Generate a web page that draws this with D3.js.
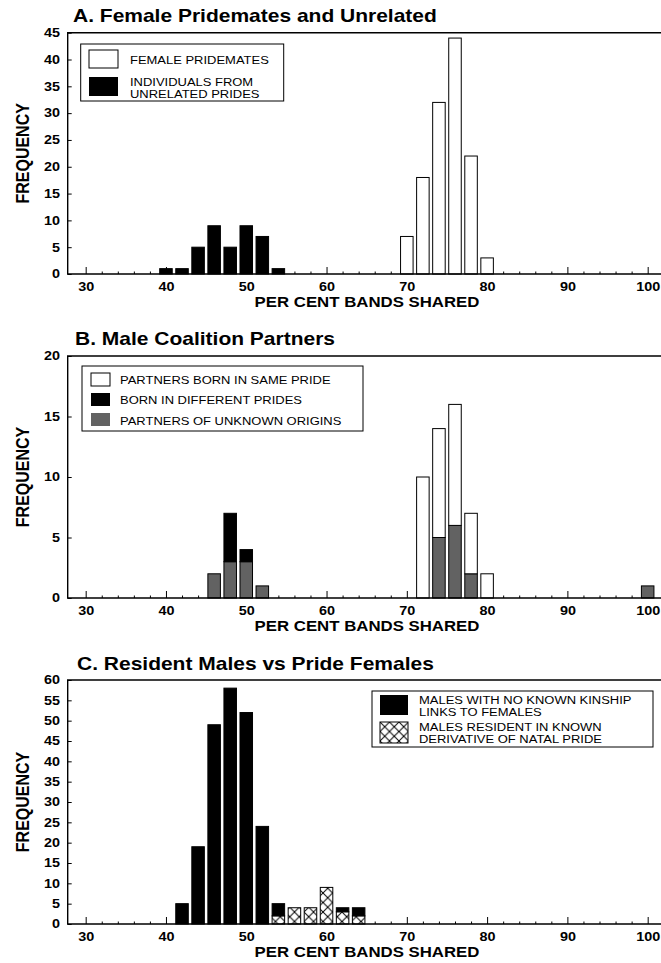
<!DOCTYPE html>
<html>
<head>
<meta charset="utf-8">
<script src="https://cdn.jsdelivr.net/npm/d3@7"></script>
<style>
  body { margin: 0; background: #fff; }
  svg { display: block; }
  text { font-family: "Liberation Sans", Arial, Helvetica, sans-serif; fill: #000; }
</style>
</head>
<body>
<svg width="661" height="963"></svg>
<script>

// A. female pridemates vs unrelated prides
const unrelatedBins = [40, 42, 44, 46, 48, 50, 52, 54];
const unrelatedFreq = [1, 1, 5, 9, 5, 9, 7, 1];
const pridemateBins = [70, 72, 74, 76, 78, 80];
const pridemateFreq = [7, 18, 32, 44, 22, 3];

// B. male coalition partners (stacked: unknown, different, same)
const binsB = [46, 48, 50, 52, 72, 74, 76, 78, 80, 100];
const unknownB = [2, 3, 3, 1, 0, 5, 6, 2, 0, 1];
const differentB = [0, 4, 1, 0, 0, 0, 0, 0, 0, 0];
const sameB = [0, 0, 0, 0, 10, 9, 10, 5, 2, 0];

// C. resident males vs pride females (stacked: derivative, no kin)
const binsC = [42, 44, 46, 48, 50, 52, 54, 56, 58, 60, 62, 64];
const derivativeC = [0, 0, 0, 0, 0, 0, 2, 4, 4, 9, 3, 2];
const noKinC = [5, 19, 49, 58, 52, 24, 3, 0, 0, 0, 1, 2];

const xTicks = [30, 40, 50, 60, 70, 80, 90, 100];

const W = 661;
const stretch = 1.2;     // the scan is wider than it is tall
const halfBar = 0.78;
const grey = '#626262';

const svg = d3.select('svg');

const x = d3.scaleLinear()
  .domain([27.76, 101.66])
  .range([67.7, 661]);

const defs = svg.append('defs');
const hatch = defs.append('pattern')
  .attr('id', 'hatch')
  .attr('patternUnits', 'userSpaceOnUse')
  .attr('width', 9.5)
  .attr('height', 9.5);
hatch.append('rect').attr('width', 9.5).attr('height', 9.5).attr('fill', '#fff');
hatch.append('path')
  .attr('d', 'M0,0L9.5,9.5M9.5,0L0,9.5')
  .attr('stroke', '#000')
  .attr('stroke-width', 1);

function label(g, tx, ty, str, size, weight, anchor, rot) {
  return g.append('text')
    .attr('transform', `translate(${tx},${ty}) scale(${stretch},1)` + (rot ? ` rotate(${rot})` : ''))
    .attr('text-anchor', anchor || 'start')
    .attr('font-size', size)
    .attr('font-weight', weight || 'normal')
    .text(str);
}

// one legend entry, possibly on two lines
function legendText(g, tx, ty, lines) {
  const t = g.append('text')
    .attr('transform', `translate(${tx},${ty}) scale(1.18,1)`)
    .attr('font-size', 11);
  lines.forEach((s, i) => {
    t.append('tspan')
      .attr('x', 0)
      .attr('dy', i ? 12.3 : 0)
      .text(s);
  });
}

function panel(cfg) {
  const g = svg.append('g');
  const y = d3.scaleLinear().domain([0, cfg.ymax]).range([cfg.bottom, cfg.top]);

  label(g, cfg.titleX, cfg.titleY, cfg.title, 17.5, 'bold');

  // y axis, ticks pointing in
  const yAxis = g.append('g')
    .attr('transform', `translate(${x.range()[0]},0)`)
    .call(d3.axisLeft(y).tickValues(d3.range(0, cfg.ymax + 1, 5)).tickSize(-4).tickPadding(6.5));
  yAxis.select('.domain').remove();
  yAxis.selectAll('text')
    .attr('font-size', 12).attr('font-weight', 'bold')
    .attr('font-family', '"Liberation Sans", Arial, sans-serif')
    .attr('transform', `scale(${stretch},1)`);

  // x axis: major and minor ticks pointing up
  const xAxis = g.append('g')
    .attr('transform', `translate(0,${cfg.bottom})`)
    .call(d3.axisBottom(x).tickValues(xTicks).tickSize(-7).tickPadding(8));
  xAxis.select('.domain').remove();
  xAxis.selectAll('text')
    .attr('font-size', 12).attr('font-weight', 'bold')
    .attr('font-family', '"Liberation Sans", Arial, sans-serif')
    .attr('transform', `scale(${stretch},1)`);
  const minor = g.append('g')
    .attr('transform', `translate(0,${cfg.bottom})`)
    .call(d3.axisBottom(x).tickValues(d3.range(32, 100, 2).filter(v => v % 10)).tickSize(-2.5).tickFormat(''));
  minor.select('.domain').remove();

  label(g, 367, cfg.bottom + 33, 'PER CENT BANDS SHARED', 14, 'bold', 'middle');
  label(g, 29, (cfg.top + cfg.bottom) / 2, 'FREQUENCY', 16, 'bold', 'middle', -90);

  cfg.draw(g, y);

  // frame: top, left and base lines
  g.append('path')
    .attr('d', `M${W},${cfg.top}H${x.range()[0]}V${cfg.bottom}H${W}`)
    .attr('fill', 'none')
    .attr('stroke', '#000')
    .attr('stroke-width', 1.4);

  return g;
}

function bars(g, y, bins, freq, fill) {
  g.append('g').selectAll('rect')
    .data(d3.zip(bins, freq))
    .join('rect')
    .attr('x', d => x(d[0] - halfBar))
    .attr('width', d => x(d[0] + halfBar) - x(d[0] - halfBar))
    .attr('y', d => y(d[1]))
    .attr('height', d => y(0) - y(d[1]))
    .attr('fill', fill)
    .attr('stroke', '#000')
    .attr('stroke-width', 1);
}

function stackedBars(g, y, bins, series, fills) {
  const rows = bins.map((b, i) => {
    const r = { bin: b };
    series.forEach(s => { r[s.key] = s.values[i]; });
    return r;
  });
  const layers = d3.stack().keys(series.map(s => s.key))(rows);
  g.append('g').selectAll('g')
    .data(layers)
    .join('g')
    .attr('fill', d => fills[d.key])
    .selectAll('rect')
    .data(d => d.filter(p => p[1] > p[0]))
    .join('rect')
    .attr('x', d => x(d.data.bin - halfBar))
    .attr('width', d => x(d.data.bin + halfBar) - x(d.data.bin - halfBar))
    .attr('y', d => y(d[1]))
    .attr('height', d => y(d[0]) - y(d[1]))
    .attr('stroke', '#000')
    .attr('stroke-width', 1);
}

// ---- A
panel({
  title: 'A. Female Pridemates and Unrelated', titleX: 73, titleY: 21.5,
  top: 32.7, bottom: 274, ymax: 45,
  draw: (g, y) => {
    bars(g, y, unrelatedBins, unrelatedFreq, '#000');
    bars(g, y, pridemateBins, pridemateFreq, '#fff');
    const lg = g.append('g');
    lg.append('rect').attr('x', 80.7).attr('y', 44).attr('width', 203).attr('height', 57)
      .attr('fill', '#fff').attr('stroke', '#000');
    lg.append('rect').attr('x', 89).attr('y', 50).attr('width', 29).attr('height', 18)
      .attr('fill', '#fff').attr('stroke', '#000');
    lg.append('rect').attr('x', 89).attr('y', 77).attr('width', 29).attr('height', 19)
      .attr('fill', '#000');
    legendText(lg, 130, 63.5, ['FEMALE PRIDEMATES']);
    legendText(lg, 130, 85.5, ['INDIVIDUALS FROM', 'UNRELATED PRIDES']);
  }
});

// ---- B
panel({
  title: 'B. Male Coalition Partners', titleX: 75, titleY: 345,
  top: 356, bottom: 598, ymax: 20,
  draw: (g, y) => {
    stackedBars(g, y, binsB, [
      { key: 'unknown', values: unknownB },
      { key: 'different', values: differentB },
      { key: 'same', values: sameB }
    ], { unknown: grey, different: '#000', same: '#fff' });
    const lg = g.append('g');
    lg.append('rect').attr('x', 82).attr('y', 366).attr('width', 281).attr('height', 65)
      .attr('fill', '#fff').attr('stroke', '#000');
    lg.append('rect').attr('x', 91).attr('y', 373).attr('width', 19).attr('height', 13)
      .attr('fill', '#fff').attr('stroke', '#000');
    lg.append('rect').attr('x', 91).attr('y', 393).attr('width', 19).attr('height', 13)
      .attr('fill', '#000');
    lg.append('rect').attr('x', 91).attr('y', 413).attr('width', 19).attr('height', 13)
      .attr('fill', grey);
    legendText(lg, 120, 383.5, ['PARTNERS BORN IN SAME PRIDE']);
    legendText(lg, 120, 404, ['BORN IN DIFFERENT PRIDES']);
    legendText(lg, 120, 424.5, ['PARTNERS OF UNKNOWN ORIGINS']);
  }
});

// ---- C
panel({
  title: 'C. Resident Males vs Pride Females', titleX: 77, titleY: 670,
  top: 680, bottom: 924, ymax: 60,
  draw: (g, y) => {
    stackedBars(g, y, binsC, [
      { key: 'derivative', values: derivativeC },
      { key: 'noKin', values: noKinC }
    ], { derivative: 'url(#hatch)', noKin: '#000' });
    const lg = g.append('g');
    lg.append('rect').attr('x', 372).attr('y', 691).attr('width', 281).attr('height', 56)
      .attr('fill', '#fff').attr('stroke', '#000');
    lg.append('rect').attr('x', 380).attr('y', 695).attr('width', 28).attr('height', 20)
      .attr('fill', '#000');
    lg.append('rect').attr('x', 380).attr('y', 722).attr('width', 28).attr('height', 21)
      .attr('fill', 'url(#hatch)').attr('stroke', '#000');
    legendText(lg, 419, 703.5, ['MALES WITH NO KNOWN KINSHIP', 'LINKS TO FEMALES']);
    legendText(lg, 419, 731, ['MALES RESIDENT IN KNOWN', 'DERIVATIVE OF NATAL PRIDE']);
  }
});

</script>
</body>
</html>
